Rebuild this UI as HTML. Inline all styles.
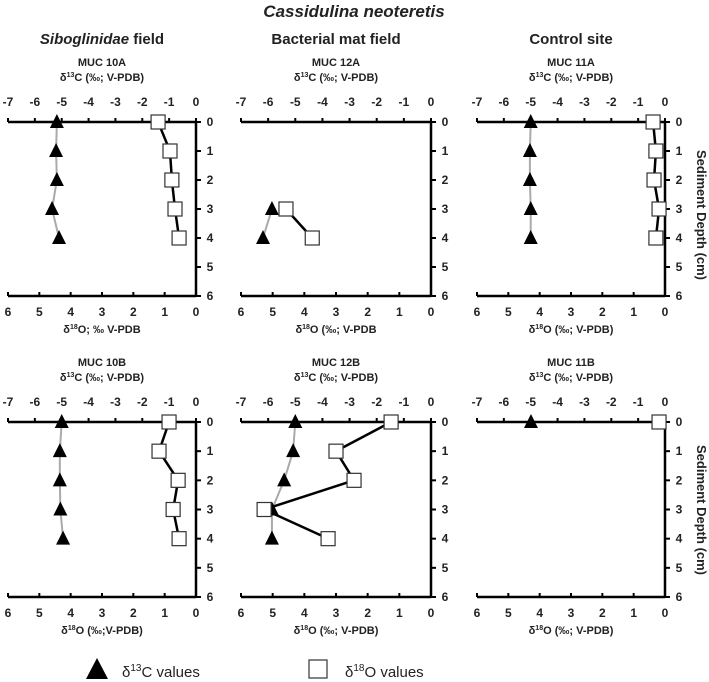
<!DOCTYPE html>
<html><head><meta charset="utf-8"><style>
body{margin:0;background:#fff}
svg{display:block;font-family:"Liberation Sans",Arial,sans-serif}
text{font-weight:bold;fill:#222}
</style></head><body>
<svg id="c" width="709" height="682" viewBox="0 0 709 682">
<text x="354" y="17" text-anchor="middle" font-size="17" font-style="italic">Cassidulina neoteretis</text>
<text x="102" y="44" text-anchor="middle" font-size="15"><tspan font-style="italic">Siboglinidae</tspan> field</text>
<text x="336" y="44" text-anchor="middle" font-size="15">Bacterial mat field</text>
<text x="571" y="44" text-anchor="middle" font-size="15">Control site</text>
<text transform="translate(697,215) rotate(90)" text-anchor="middle" font-size="13">Sediment Depth (cm)</text>
<text transform="translate(697,510) rotate(90)" text-anchor="middle" font-size="13">Sediment Depth (cm)</text>
<polygon points="97,658 86,679 108,679" fill="#000"/>
<text x="122" y="677" font-size="15" style="font-weight:normal">δ<tspan font-size="10" dy="-6">13</tspan><tspan dy="6">C values</tspan></text>
<rect x="309" y="660" width="18" height="18" fill="#fff" stroke="#333" stroke-width="1.2"/>
<text x="345" y="677" font-size="15" style="font-weight:normal">δ<tspan font-size="10" dy="-6">18</tspan><tspan dy="6">O values</tspan></text>
</svg>
<script>
const panelNames=["MUC 10A","MUC 12A","MUC 11A","MUC 10B","MUC 12B","MUC 11B"];
const c13Depths=[[0,1,2,3,4],[3,4],[0,1,2,3,4],[0,1,2,3,4],[0,1,2,3,4],[0]];
const c13Values=[[-5.18,-5.21,-5.18,-5.36,-5.1],[-5.86,-6.19],[-5.0,-5.03,-5.03,-5.0,-5.0],[-5.0,-5.07,-5.07,-5.05,-4.95],[-5.0,-5.08,-5.41,-5.86,-5.86],[-4.99]];
const o18Depths=[[0,1,2,3,4],[3,4],[0,1,2,3,4],[0,1,2,3,4],[0,1,2,3,4],[0]];
const o18Values=[[1.21,0.83,0.77,0.67,0.54],[4.58,3.75],[0.38,0.29,0.35,0.19,0.29],[0.86,1.18,0.57,0.73,0.54],[1.26,3.0,2.43,5.27,3.25],[0.19]];
const topTicks=[-7,-6,-5,-4,-3,-2,-1,0];
const bottomTicks=[6,5,4,3,2,1,0];
const depthTicks=[0,1,2,3,4,5,6];
const cLabels=["δ13C  (‰; V-PDB)","δ13C (‰; V-PDB)","δ13C  (‰; V-PDB)","δ13C (‰; V-PDB)","δ13C (‰; V-PDB)","δ13C (‰; V-PDB)"];
const oLabels=["δ18O; ‰ V-PDB","δ18O (‰; V-PDB","δ18O (‰; V-PDB)","δ18O (‰;V-PDB)","δ18O (‰; V-PDB)","δ18O (‰; V-PDB)"];
const svg=document.getElementById('c');
const NS="http://www.w3.org/2000/svg";
function mk(tag,attrs,parent){const e=document.createElementNS(NS,tag);for(const k in attrs)e.setAttribute(k,attrs[k]);(parent||svg).appendChild(e);return e;}
const lefts=[8,241,477],rights=[196,431,665],tops=[122,422],bots=[296,597];
function deltaText(g,x,y,s,name){
  const t=mk('text',{x:x,y:y,'text-anchor':'middle','font-size':11},g);
  
  
  const m=s.match(/^δ(\d\d)(.*)$/);
  t.textContent='δ';
  const a=document.createElementNS(NS,'tspan');a.setAttribute('font-size','7');a.setAttribute('dy','-4');a.textContent=m[1];t.appendChild(a);
  const b=document.createElementNS(NS,'tspan');b.setAttribute('dy','4');b.textContent=m[2];t.appendChild(b);
}
for(let p=0;p<6;p++){
  const col=p%3,row=Math.floor(p/3);
  const L=lefts[col],R=rights[col],T=tops[row],B=bots[row];
  const xC=v=>L+(v+7)/7*(R-L);
  const xO=v=>R-v/6*(R-L);
  const yD=d=>T+d/6*(B-T);
  const g=mk('g',{});
  
  
  const cx=(L+R)/2;
  const tt=mk('text',{x:cx,y:T-56,'text-anchor':'middle','font-size':11},g);
  
  
  tt.textContent=panelNames[p];
  deltaText(g,cx,T-41,cLabels[p],'top-axis-title');
  deltaText(g,cx,B+37,oLabels[p],'bottom-axis-title');
  mk('line',{x1:L,y1:T,x2:R,y2:T,stroke:'#000','stroke-width':2.5},g);
  mk('line',{x1:L,y1:B,x2:R,y2:B,stroke:'#000','stroke-width':2.5},g);
  mk('line',{x1:R,y1:T,x2:R,y2:B,stroke:'#000','stroke-width':2.5},g);
  topTicks.forEach(v=>{const x=xC(v);mk('line',{x1:x,y1:T,x2:x,y2:T-4,stroke:'#000','stroke-width':2},g);
    const t=mk('text',{x:x,y:T-16,'text-anchor':'middle','font-size':12},g);
    t.textContent=v;});
  bottomTicks.forEach(v=>{const x=xO(v);mk('line',{x1:x,y1:B,x2:x,y2:B-4,stroke:'#000','stroke-width':2},g);
    const t=mk('text',{x:x,y:B+20,'text-anchor':'middle','font-size':12},g);
    t.textContent=v;});
  depthTicks.forEach(d=>{const y=yD(d);mk('line',{x1:R,y1:y,x2:R+5,y2:y,stroke:'#000','stroke-width':2},g);
    const t=mk('text',{x:R+14,y:y+4,'text-anchor':'middle','font-size':12},g);
    t.textContent=d;});
  if(c13Values[p].length>1){
    const pts=c13Values[p].map((v,i)=>xC(v)+','+yD(c13Depths[p][i])).join(' ');
    const pl=mk('polyline',{points:pts,fill:'none',stroke:'#aaa','stroke-width':2},g);
    
  }
  if(o18Values[p].length>1){
    const pts=o18Values[p].map((v,i)=>xO(v)+','+yD(o18Depths[p][i])).join(' ');
    const pl=mk('polyline',{points:pts,fill:'none',stroke:'#000','stroke-width':2.5},g);
    
  }
  c13Values[p].forEach((v,i)=>{const x=xC(v),y=yD(c13Depths[p][i]);
    const tr=mk('polygon',{points:`${x},${y-8} ${x-7},${y+6} ${x+7},${y+6}`,fill:'#000'},g);
    });
  o18Values[p].forEach((v,i)=>{const x=xO(v),y=yD(o18Depths[p][i]);
    const r=mk('rect',{x:x-7,y:y-7,width:14,height:14,fill:'#fff',stroke:'#333','stroke-width':1.2},g);
    });
}
</script>
</body></html>
